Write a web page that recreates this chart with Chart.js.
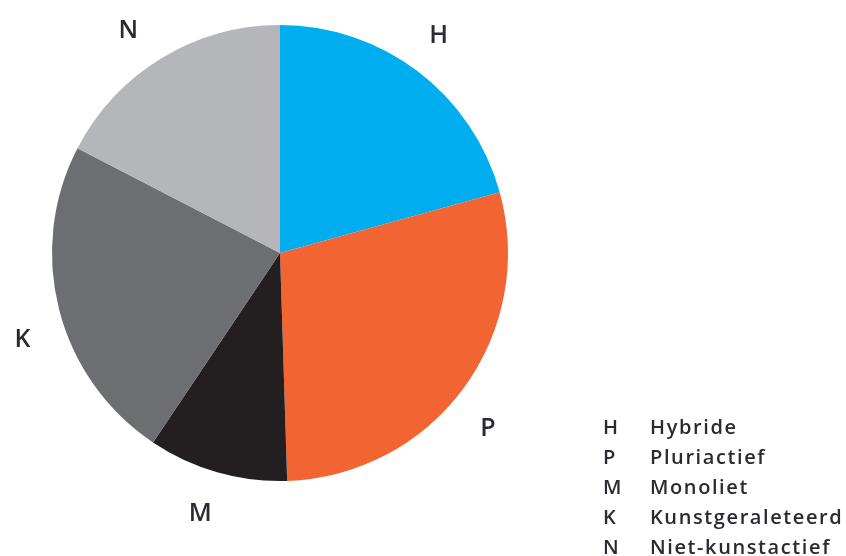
<!DOCTYPE html>
<html lang="nl">
<head>
  <meta charset="UTF-8">
  <title>Verdeling kunstenaars</title>
  <script src="https://cdn.jsdelivr.net/npm/chart.js"></script>
  <style>
    html, body { margin: 0; padding: 0; background: #fff; }
    .chart-box { position: relative; width: 846px; height: 556px; }
  </style>
</head>
<body>
  <div class="chart-box">
    <canvas id="pieChart"></canvas>
  </div>

  <script>
    // data (share in %)
    const codes = ['H', 'P', 'M', 'K', 'N'];
    const names = ['Hybride', 'Pluriactief', 'Monoliet', 'Kunstgeraleteerd', 'Niet-kunstactief'];
    const shares = [20.7, 28.8, 9.9, 23.2, 17.4];
    const colors = ['#00aeef', '#f26532', '#231f20', '#6d6e72', '#b5b6b9'];

    const textColor = '#2a2a35';
    const fontFamily = "'Open Sans', Roboto, sans-serif";
    // small angle nudges (degrees) so the letters sit where the original put them
    const labelNudge = [-1.4, 3.5, 1.1, -3.8, -2.7];

    // letters just outside each slice, plus the key in the lower right
    const labelPlugin = {
      id: 'sliceLabels',
      afterDraw(chart) {
        const ctx = chart.ctx;
        const arcs = chart.getDatasetMeta(0).data;
        ctx.save();
        ctx.fillStyle = textColor;
        ctx.textAlign = 'center';
        ctx.textBaseline = 'alphabetic';
        ctx.font = '600 25px ' + fontFamily;
        arcs.forEach((arc, i) => {
          const p = arc.getProps(['x', 'y', 'startAngle', 'endAngle', 'outerRadius'], true);
          const mid = (p.startAngle + p.endAngle) / 2 + labelNudge[i] * Math.PI / 180;
          const r = p.outerRadius + 43;
          // baseline sits about half a cap height below the anchor point
          ctx.fillText(codes[i], p.x + Math.cos(mid) * r, p.y + Math.sin(mid) * r + 9.5);
        });

        // key
        ctx.textAlign = 'left';
        ctx.font = '600 20px ' + fontFamily;
        ctx.letterSpacing = '1.6px';
        codes.forEach((c, i) => {
          const y = 433.5 + i * 30;
          ctx.fillText(c, 603, y);
          ctx.fillText(names[i], 650, y);
        });
        ctx.restore();
      }
    };

    new Chart(document.getElementById('pieChart'), {
      type: 'pie',
      data: {
        labels: names,
        datasets: [{
          data: shares,
          backgroundColor: colors,
          borderWidth: 0
        }]
      },
      options: {
        responsive: true,
        maintainAspectRatio: false,
        animation: false,
        layout: { padding: { left: 52, right: 338, top: 25, bottom: 75 } },
        plugins: {
          legend: { display: false },
          tooltip: { enabled: false }
        }
      },
      plugins: [labelPlugin]
    });
  </script>
</body>
</html>
